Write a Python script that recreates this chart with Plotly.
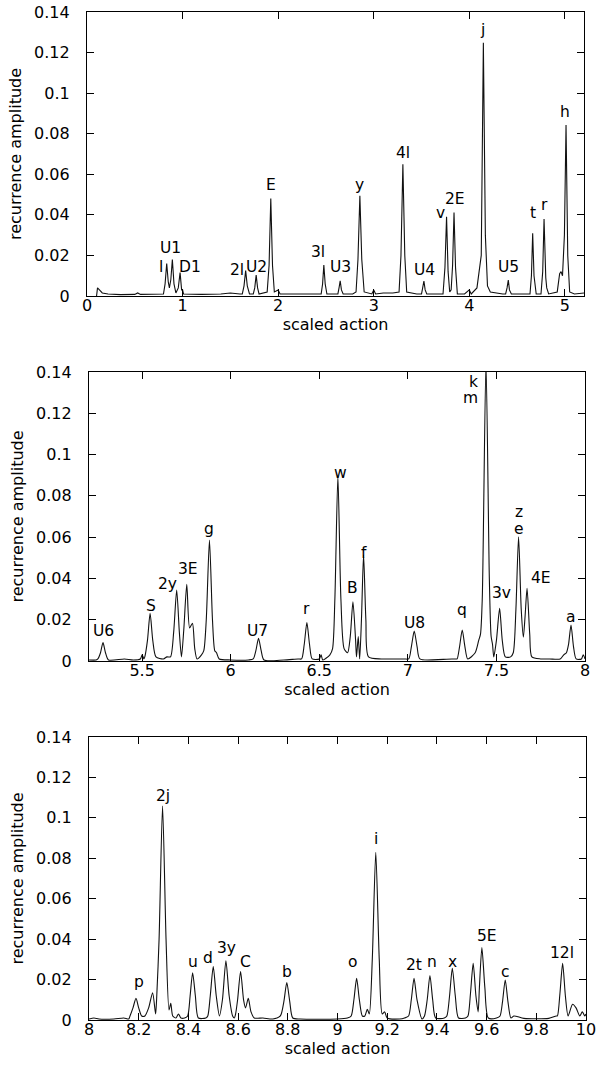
import plotly.graph_objects as go

# ---------------- data ----------------
# Panel 1: scaled action 0 .. 5.2
P1_X = [0.10, 0.11, 0.13, 0.16, 0.22, 0.35, 0.50, 0.53, 0.56, 0.75,
        0.80, 0.817, 0.834, 0.85, 0.862, 0.877, 0.893, 0.91, 0.93,
        0.955, 0.974, 0.99, 1.00, 1.01, 1.20, 1.40, 1.50, 1.60,
        1.625, 1.643, 1.66, 1.677, 1.70, 1.74, 1.755, 1.77, 1.785, 1.80, 1.86,
        1.885, 1.905, 1.923, 1.941, 1.96, 2.00, 2.02, 2.30, 2.42,
        2.45, 2.465, 2.478, 2.492, 2.51, 2.60,
        2.625, 2.637, 2.649, 2.662, 2.68, 2.78,
        2.815, 2.835, 2.855, 2.875, 2.90, 2.98, 3.00, 3.02, 3.10, 3.20,
        3.265, 3.285, 3.305, 3.325, 3.345, 3.45,
        3.50, 3.512, 3.525, 3.538, 3.555, 3.70,
        3.725, 3.745, 3.762, 3.778, 3.795,
        3.81, 3.825, 3.84, 3.856, 3.875, 3.95, 4.00, 4.02, 4.08,
        4.115, 4.125, 4.147, 4.168, 4.19, 4.22, 4.35,
        4.38, 4.395, 4.408, 4.42, 4.44, 4.60,
        4.635, 4.65, 4.663, 4.677, 4.70,
        4.75, 4.768, 4.782, 4.795, 4.80, 4.81, 4.83, 4.92,
        4.945, 4.96, 4.975, 4.995, 5.012, 5.03, 5.05, 5.10, 5.20]
P1_Y = [0.0, 0.004, 0.003, 0.0015, 0.001, 0.0007, 0.0008, 0.0015, 0.0008, 0.0008,
        0.001, 0.006, 0.016, 0.007, 0.004, 0.008, 0.018, 0.006, 0.0015,
        0.004, 0.0115, 0.003, 0.003, 0.001, 0.0008, 0.001, 0.0015, 0.001,
        0.001, 0.005, 0.0125, 0.005, 0.001, 0.001, 0.004, 0.0103, 0.004, 0.001, 0.0015,
        0.002, 0.015, 0.048, 0.015, 0.002, 0.003, 0.001, 0.001, 0.0012,
        0.001, 0.006, 0.0153, 0.006, 0.001, 0.001,
        0.001, 0.004, 0.0075, 0.003, 0.001, 0.001,
        0.002, 0.018, 0.0494, 0.018, 0.002, 0.001, 0.003, 0.001, 0.0015, 0.0015,
        0.002, 0.02, 0.065, 0.02, 0.002, 0.001,
        0.001, 0.004, 0.0074, 0.003, 0.001, 0.001,
        0.001, 0.014, 0.039, 0.012, 0.002,
        0.003, 0.015, 0.0412, 0.014, 0.001, 0.001, 0.003, 0.001, 0.004,
        0.018, 0.02, 0.1248, 0.03, 0.005, 0.002, 0.001,
        0.001, 0.004, 0.0079, 0.003, 0.001, 0.001,
        0.001, 0.01, 0.0309, 0.01, 0.001,
        0.001, 0.012, 0.038, 0.012, 0.009, 0.004, 0.001, 0.002,
        0.011, 0.012, 0.01, 0.03, 0.0843, 0.02, 0.002, 0.001, 0.0015]
P1_LABELS = ["l", "U1", "D1", "2l", "U2", "E", "3l", "U3", "y", "4l", "U4",
             "v", "2E", "j", "U5", "t", "r", "h"]
P1_LABEL_X = [0.772, 0.876, 1.079, 1.568, 1.777, 1.924, 2.422, 2.649, 2.851,
              3.306, 3.529, 3.695, 3.850, 4.143, 4.412, 4.663, 4.782, 5.005]
P1_LABEL_Y = [0.0144, 0.0237, 0.0144, 0.0128, 0.0144, 0.0547, 0.0218, 0.0144,
              0.0547, 0.0705, 0.0128, 0.0408, 0.0476, 0.1311, 0.0144, 0.0409,
              0.0449, 0.0908]

# Panel 2: scaled action 5.2 .. 8
P2_X = [5.20, 5.24, 5.25, 5.265, 5.279, 5.293, 5.31, 5.40, 5.45, 5.49, 5.50, 5.51,
        5.515, 5.53, 5.545, 5.56, 5.578, 5.62, 5.64,
        5.66, 5.678, 5.695, 5.71, 5.722, 5.735, 5.752, 5.768, 5.784, 5.797, 5.81,
        5.835, 5.848, 5.862, 5.88, 5.897, 5.91, 5.92, 5.935, 6.00, 6.10,
        6.127, 6.142, 6.157, 6.172, 6.188, 6.30, 6.38,
        6.40, 6.415, 6.43, 6.445, 6.46, 6.50, 6.51, 6.52, 6.56, 6.575,
        6.588, 6.605, 6.622, 6.64, 6.66,
        6.675, 6.69, 6.705, 6.71, 6.72, 6.728, 6.738, 6.75, 6.763, 6.778,
        6.85, 6.90, 6.98,
        7.005, 7.02, 7.036, 7.052, 7.068, 7.20, 7.27,
        7.278, 7.292, 7.307, 7.322, 7.338, 7.38, 7.40, 7.41, 7.42,
        7.441, 7.46, 7.47, 7.478, 7.485,
        7.50, 7.518, 7.533, 7.55, 7.58,
        7.595, 7.61, 7.625, 7.64, 7.652, 7.662, 7.673, 7.688, 7.70,
        7.75, 7.80, 7.86, 7.88, 7.895, 7.907, 7.921, 7.935, 7.95, 7.98, 7.99, 8.00]
P2_Y = [0.0005, 0.0005, 0.001, 0.004, 0.0089, 0.004, 0.0005, 0.001, 0.0005, 0.001, 0.003, 0.001,
        0.002, 0.01, 0.0231, 0.01, 0.002, 0.001, 0.002,
        0.002, 0.014, 0.0344, 0.014, 0.002, 0.015, 0.0371, 0.016, 0.0183, 0.006, 0.001,
        0.003, 0.005, 0.02, 0.0586, 0.02, 0.005, 0.004, 0.001, 0.0005, 0.0005,
        0.001, 0.005, 0.011, 0.005, 0.0005, 0.0005, 0.001,
        0.001, 0.008, 0.0186, 0.008, 0.001, 0.001, 0.003, 0.0005, 0.003, 0.006,
        0.03, 0.0896, 0.03, 0.006, 0.004,
        0.012, 0.0287, 0.01, 0.002, 0.0118, 0.001, 0.02, 0.0514, 0.02, 0.002,
        0.001, 0.001, 0.001,
        0.001, 0.007, 0.0145, 0.007, 0.001, 0.0008, 0.001,
        0.001, 0.007, 0.015, 0.007, 0.001, 0.004, 0.01, 0.013, 0.03,
        0.145, 0.04, 0.012, 0.008, 0.002,
        0.01, 0.0255, 0.01, 0.002, 0.002,
        0.004, 0.025, 0.0602, 0.025, 0.0116, 0.022, 0.0352, 0.013, 0.002,
        0.001, 0.001, 0.001, 0.003, 0.004, 0.008, 0.0174, 0.007, 0.001, 0.001, 0.003, 0.001]
P2_LABELS = ["U6", "S", "2y", "3E", "g", "U7", "r", "w", "B", "f", "U8", "q",
             "k", "m", "3v", "z", "e", "4E", "a"]
P2_LABEL_X = [5.281, 5.549, 5.645, 5.758, 5.880, 6.153, 6.430, 6.618, 6.690,
              6.750, 7.038, 7.307, 7.371, 7.353, 7.526, 7.628, 7.628, 7.752, 7.923]
P2_LABEL_Y = [0.0147, 0.0266, 0.0372, 0.0444, 0.0640, 0.0147, 0.0250, 0.0912,
              0.0352, 0.0522, 0.0183, 0.0247, 0.1352, 0.1272, 0.0328, 0.0720,
              0.0641, 0.0401, 0.0215]

# Panel 3: scaled action 8 .. 10
P3_X = [8.00, 8.02, 8.04, 8.10, 8.14, 8.16,
        8.165, 8.177, 8.189, 8.20, 8.212, 8.225, 8.24, 8.256, 8.268,
        8.272, 8.282, 8.296, 8.31, 8.322, 8.329, 8.337, 8.35, 8.36, 8.37, 8.385,
        8.397, 8.407, 8.417, 8.428, 8.44, 8.47,
        8.478, 8.488, 8.50, 8.512, 8.525, 8.537, 8.551, 8.564, 8.578, 8.585, 8.59,
        8.598, 8.61, 8.622, 8.63, 8.641, 8.652, 8.665, 8.70, 8.74, 8.77,
        8.784, 8.796, 8.808, 8.82, 8.85, 9.00, 9.04,
        9.055, 9.066, 9.077, 9.088, 9.10, 9.11, 9.12, 9.128,
        9.14, 9.154, 9.168, 9.18, 9.19, 9.20, 9.25, 9.27,
        9.286, 9.297, 9.308, 9.32, 9.34,
        9.35, 9.361, 9.372, 9.383, 9.395, 9.43,
        9.44, 9.451, 9.462, 9.474, 9.487, 9.515,
        9.525, 9.535, 9.546, 9.557, 9.566, 9.571, 9.581, 9.593, 9.607, 9.64,
        9.654, 9.664, 9.675, 9.686, 9.698, 9.71, 9.75, 9.85, 9.88,
        9.885, 9.895, 9.906, 9.917, 9.928, 9.946, 9.96, 9.975, 9.985, 9.995, 10.0]
P3_Y = [0.0005, 0.001, 0.0005, 0.0005, 0.001, 0.0005,
        0.002, 0.006, 0.0107, 0.006, 0.002, 0.002, 0.006, 0.0135, 0.003,
        0.01, 0.04, 0.1059, 0.04, 0.005, 0.0083, 0.002, 0.001, 0.003, 0.001, 0.001,
        0.002, 0.012, 0.0234, 0.012, 0.001, 0.001,
        0.002, 0.012, 0.0264, 0.012, 0.002, 0.01, 0.0293, 0.012, 0.002, 0.001, 0.003,
        0.01, 0.024, 0.01, 0.006, 0.0107, 0.004, 0.001, 0.001, 0.0005, 0.002,
        0.009, 0.0185, 0.009, 0.001, 0.0005, 0.0005, 0.001,
        0.002, 0.01, 0.0206, 0.01, 0.002, 0.002, 0.0053, 0.003,
        0.03, 0.083, 0.03, 0.003, 0.004, 0.001, 0.0005, 0.001,
        0.002, 0.01, 0.0206, 0.01, 0.0005,
        0.002, 0.01, 0.022, 0.01, 0.001, 0.001,
        0.002, 0.012, 0.0256, 0.012, 0.001, 0.001,
        0.002, 0.013, 0.028, 0.012, 0.004, 0.016, 0.0358, 0.016, 0.001, 0.001,
        0.002, 0.009, 0.0198, 0.009, 0.001, 0.002, 0.0008, 0.0008, 0.002,
        0.002, 0.013, 0.028, 0.012, 0.002, 0.0078, 0.006, 0.002, 0.004, 0.002, 0.003]
P3_LABELS = ["p", "2j", "u", "d", "3y", "C", "b", "o", "i", "2t", "n", "x",
             "5E", "c", "12l"]
P3_LABEL_X = [8.202, 8.299, 8.420, 8.480, 8.554, 8.631, 8.798, 9.061, 9.155,
              9.309, 9.379, 9.462, 9.600, 9.675, 9.902]
P3_LABEL_Y = [0.019, 0.1108, 0.0288, 0.0305, 0.0355, 0.0288, 0.0239, 0.0288,
              0.0894, 0.0272, 0.0288, 0.0288, 0.0416, 0.0239, 0.0330]

X_RANGES = [[0, 5.2], [5.2, 8.0], [8.0, 10.0]]
X_DTICKS = [1, 0.5, 0.2]
Y_RANGE = [0, 0.14]
Y_DTICK = 0.02
X_TITLE = "scaled action"
Y_TITLE = "recurrence amplitude"

# ---------------- figure ----------------
FONT = "DejaVu Sans, Liberation Sans, Arial, sans-serif"
FS = 15.5          # peak labels
FT = 16            # ticks and axis titles
# the page's default body margin is removed (post_script below), so the
# figure fills the window from its top-left corner
W, H = 596, 1065
# pixel boxes of the three plot areas: (left, right, top, bottom)
BOXES = [(87, 584, 12, 296), (89, 585, 372, 661), (89, 586, 737, 1020)]
ML = min(bx[0] for bx in BOXES)
MT = min(bx[2] for bx in BOXES)
MR = W - max(bx[1] for bx in BOXES)
MB = H - max(bx[3] for bx in BOXES)
PW, PH = W - ML - MR, H - MT - MB
SHAPES = ["linear", "spline", "spline"]

fig = go.Figure()
panels = [(P1_X, P1_Y, P1_LABELS, P1_LABEL_X, P1_LABEL_Y),
          (P2_X, P2_Y, P2_LABELS, P2_LABEL_X, P2_LABEL_Y),
          (P3_X, P3_Y, P3_LABELS, P3_LABEL_X, P3_LABEL_Y)]

annotations = []
for i, (xs, ys, labs, lx, ly) in enumerate(panels):
    n = "" if i == 0 else str(i + 1)
    fig.add_trace(go.Scatter(x=xs, y=ys, mode="lines",
                             line=dict(color="#111111", width=1.1,
                                       shape=SHAPES[i], smoothing=0.7),
                             xaxis="x" + n, yaxis="y" + n, showlegend=False,
                             cliponaxis=True))
    l, r, t, b = BOXES[i]
    axcommon = dict(showline=True, linecolor="black", linewidth=1.2,
                    mirror="ticks", ticks="inside", ticklen=7, tickwidth=1,
                    tickcolor="black", showgrid=False, zeroline=False,
                    automargin=False, ticklabeloverflow="allow",
                    tickfont=dict(family=FONT, size=FT, color="black"))
    fig.update_layout(**{
        "xaxis" + n: dict(domain=[(l - ML) / PW, (r - ML) / PW], range=X_RANGES[i],
                          dtick=X_DTICKS[i], tick0=0, anchor="y" + n,
                          ticklabelstandoff=-5,
                          title=dict(text=X_TITLE, standoff=0,
                                     font=dict(family=FONT, size=FT, color="black")),
                          **axcommon),
        "yaxis" + n: dict(domain=[(H - MB - b) / PH, (H - MB - t) / PH], range=Y_RANGE,
                          dtick=Y_DTICK, tick0=0, anchor="x" + n,
                          ticklabelstandoff=13,
                          title=dict(text=Y_TITLE, standoff=8,
                                     font=dict(family=FONT, size=FT, color="black")),
                          **axcommon),
    })
    for txt, x, y in zip(labs, lx, ly):
        annotations.append(dict(x=x, y=y, xref="x" + n, yref="y" + n, text=txt,
                                showarrow=False, xanchor="center", yanchor="middle",
                                font=dict(family=FONT, size=FS, color="black")))

fig.update_layout(width=W, height=H, margin=dict(l=ML, r=MR, t=MT, b=MB),
                  paper_bgcolor="white", plot_bgcolor="white",
                  annotations=annotations)

fig.write_html("out.html",
               config={"displayModeBar": False},
               post_script="document.body.style.margin='0';"
                           "document.body.style.overflow='hidden';")
